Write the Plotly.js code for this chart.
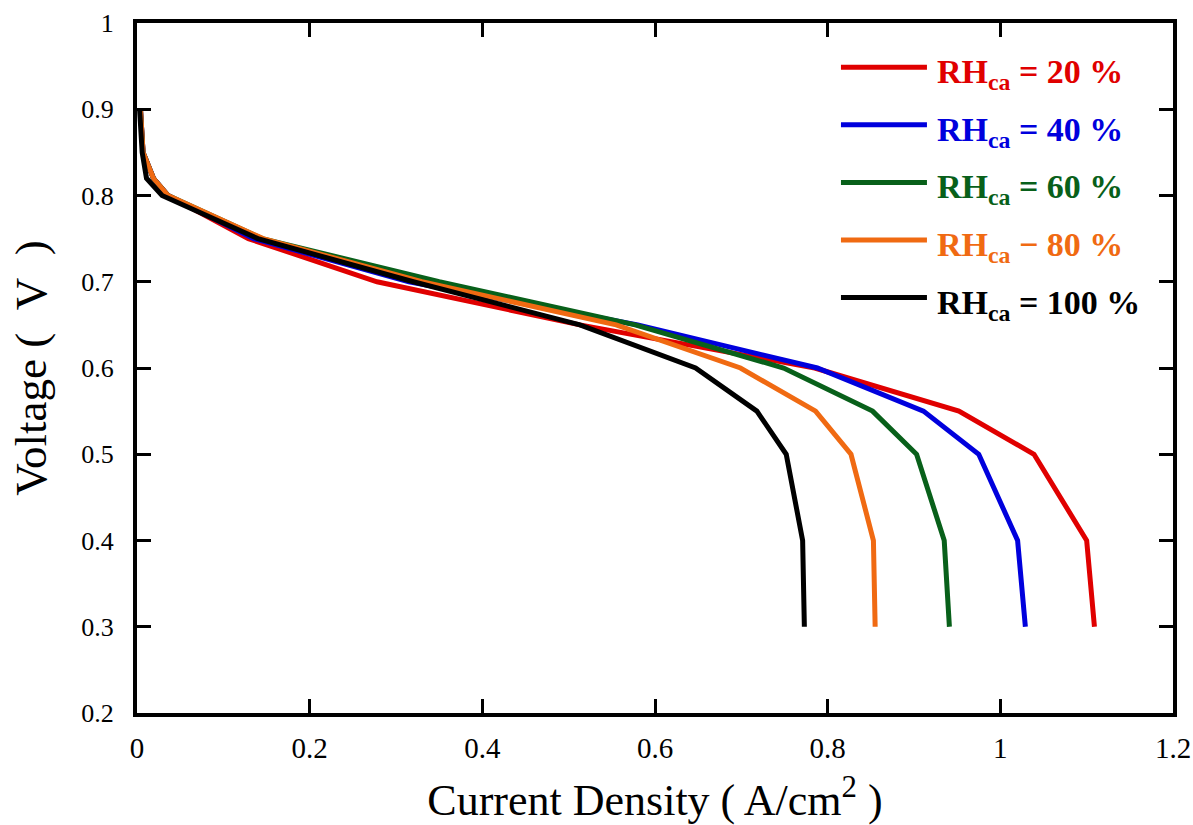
<!DOCTYPE html>
<html>
<head>
<meta charset="utf-8">
<script src="https://cdn.plot.ly/plotly-3.0.1.min.js"></script>
<style>html,body{margin:0;padding:0;background:#fff;}#chart{width:1193px;height:825px;}</style>
</head>
<body>
<div id="chart"></div>
<script>
// Series labels and colours
const seriesNames = ["RH<sub>ca</sub> = 20 %", "RH<sub>ca</sub> = 40 %", "RH<sub>ca</sub> = 60 %", "RH<sub>ca</sub> − 80 %", "RH<sub>ca</sub> = 100 %"];
const seriesColors = ["#e00000", "#0000dd", "#08601a", "#f06a12", "#000000"];

// Voltage (V) values common to all curves
const voltage = [0.90, 0.85, 0.82, 0.80, 0.75, 0.70, 0.65, 0.60, 0.55, 0.50, 0.40, 0.30];

// Current density (A/cm2) for each RH_ca
const current_RH20  = [0.004, 0.007, 0.019, 0.036, 0.129, 0.278, 0.513, 0.785, 0.952, 1.039, 1.100, 1.109];
const current_RH40  = [0.004, 0.007, 0.019, 0.036, 0.135, 0.315, 0.580, 0.788, 0.911, 0.975, 1.020, 1.029];
const current_RH60  = [0.004, 0.007, 0.019, 0.036, 0.145, 0.350, 0.577, 0.749, 0.852, 0.903, 0.935, 0.941];
const current_RH80  = [0.004, 0.007, 0.019, 0.036, 0.146, 0.330, 0.555, 0.699, 0.786, 0.827, 0.853, 0.855];
const current_RH100 = [0.003, 0.006, 0.011, 0.029, 0.140, 0.320, 0.513, 0.647, 0.718, 0.752, 0.771, 0.773];

const currents = [current_RH20, current_RH40, current_RH60, current_RH80, current_RH100];

const serif = "Liberation Serif, Times New Roman, Times, serif";

const traces = currents.map((xs, i) => ({
  x: xs,
  y: voltage,
  type: "scatter",
  mode: "lines",
  name: seriesNames[i],
  line: {color: seriesColors[i], width: 5},
  showlegend: false
}));

// Manual legend (long line samples like the reference)
const legendX0 = 0.6795, legendX1 = 0.7625, legendTextX = 0.770;
const legendTop = 0.936, legendStep = 0.0835;
const shapes = [];
const annotations = [];
seriesNames.forEach((nm, i) => {
  const yy = legendTop - i * legendStep;
  shapes.push({type: "line", xref: "paper", yref: "paper", x0: legendX0, x1: legendX1, y0: yy, y1: yy,
               line: {color: seriesColors[i], width: 5}});
  annotations.push({xref: "paper", yref: "paper", x: legendTextX, y: yy, xanchor: "left", yanchor: "middle",
                    yshift: -7, showarrow: false, text: "<b>" + nm + "</b>",
                    font: {family: serif, size: 34, color: seriesColors[i]}});
});

const layout = {
  width: 1193, height: 825,
  margin: {l: 137, r: 20, t: 23, b: 112},
  paper_bgcolor: "#fff", plot_bgcolor: "#fff",
  showlegend: false,
  xaxis: {
    range: [0, 1.2], dtick: 0.2, tick0: 0,
    showgrid: false, zeroline: false,
    showline: true, linewidth: 4, linecolor: "#000", mirror: "ticks",
    ticks: "inside", ticklen: 14, tickwidth: 3, tickcolor: "#000",
    ticklabelstandoff: 6,
    tickfont: {family: serif, size: 29, color: "#000"},
    title: {text: "Current Density ( A/cm<sup>2</sup> )", font: {family: serif, size: 44, color: "#000"}, standoff: 24}
  },
  yaxis: {
    range: [0.2, 1.0], dtick: 0.1, tick0: 0.2,
    showgrid: false, zeroline: false,
    showline: true, linewidth: 4, linecolor: "#000", mirror: "ticks",
    ticks: "inside", ticklen: 14, tickwidth: 3, tickcolor: "#000",
    ticklabelstandoff: 14,
    tickfont: {family: serif, size: 26, color: "#000"},
    title: {text: "Voltage (&nbsp;&nbsp;V&nbsp;&nbsp;)", font: {family: serif, size: 45, color: "#000"}, standoff: 22}
  },
  shapes: shapes,
  annotations: annotations
};

Plotly.newPlot("chart", traces, layout, {displayModeBar: false, staticPlot: true});
</script>
</body>
</html>
